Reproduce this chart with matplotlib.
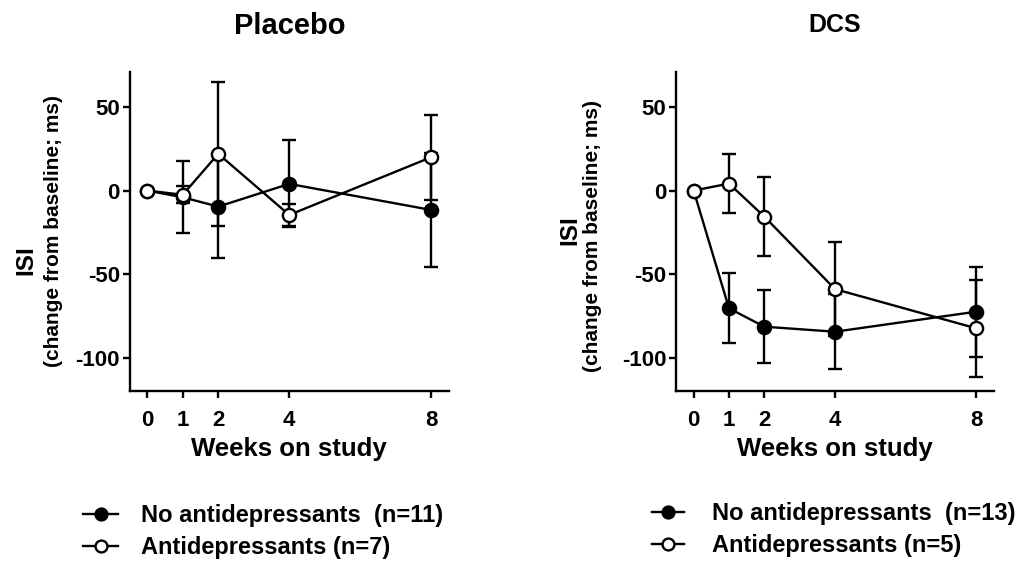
import numpy as np
import matplotlib
matplotlib.use("Agg")
import matplotlib.pyplot as plt

plt.rcParams['font.family'] = ['Liberation Sans', 'DejaVu Sans']
plt.rcParams['font.weight'] = 'bold'
plt.rcParams['axes.unicode_minus'] = False

weeks = [0, 1, 2, 4, 8]

# Placebo
pl_no_mean = [0, -4, -9.6, 4, -11.6]
pl_no_err = [0, 21.5, 31, 26, 34]
pl_ad_mean = [0, -2.5, 22, -14.6, 20]
pl_ad_err = [0, 5.2, 43, 6.5, 25.5]

# DCS
dcs_no_mean = [0, -70.5, -81.5, -84.5, -72.5]
dcs_no_err = [0, 21, 22, 22.5, 27]
dcs_ad_mean = [0, 4.2, -15.6, -59, -82.5]
dcs_ad_err = [0, 17.8, 23.6, 28, 29]

titles = ["Placebo", "DCS"]
title_sizes = [21, 18]
legend_labels = [["No antidepressants  (n=11)", "Antidepressants (n=7)"],
                 ["No antidepressants  (n=13)", "Antidepressants (n=5)"]]

W, H = 1023, 568
fig = plt.figure(figsize=(W / 100, H / 100), dpi=100)

def px(x0, y0, x1, y1):
    return [x0 / W, 1 - y1 / H, (x1 - x0) / W, (y1 - y0) / H]

axes = [fig.add_axes(px(129.5, 72, 449, 391)),
        fig.add_axes(px(676, 72, 994, 391))]

data = [(pl_no_mean, pl_no_err, pl_ad_mean, pl_ad_err),
        (dcs_no_mean, dcs_no_err, dcs_ad_mean, dcs_ad_err)]

lw = 1.7
for i, ax in enumerate(axes):
    nm, ne, am, ae = data[i]
    for m, e in [(nm, ne), (am, ae)]:
        ax.errorbar(weeks, m, yerr=e, fmt='none', ecolor='black',
                    elinewidth=lw, capsize=5, capthick=lw, zorder=2)
    h1, = ax.plot(weeks, nm, '-o', color='black', lw=lw, ms=9.5,
                  mfc='black', mec='black', mew=lw, zorder=3)
    h2, = ax.plot(weeks, am, '-o', color='black', lw=lw, ms=9.5,
                  mfc='white', mec='black', mew=lw, zorder=4)

    ax.set_xlim(-0.5, 8.5)
    ax.set_ylim(-120, 71)
    ax.set_xticks(weeks)
    ax.set_yticks([-100, -50, 0, 50])
    for s in ['top', 'right']:
        ax.spines[s].set_visible(False)
    for s in ['left', 'bottom']:
        ax.spines[s].set_linewidth(1.7)
    ax.tick_params(axis='both', width=1.7, length=5, labelsize=16)
    ax.tick_params(axis='x', pad=9)
    ax.tick_params(axis='y', pad=2)
    ax.set_xlabel("Weeks on study", fontsize=18.5, fontweight='bold', labelpad=4)
    ax.set_title(titles[i], fontsize=title_sizes[i], fontweight='bold',
                 pad=[27, 29][i])

    if i == 0:
        anchor = (83 / W, 1 - 504 / H)
        hl, tp = 1.5, 0.95
    else:
        anchor = (652 / W, 1 - 502 / H)
        hl, tp = 1.35, 1.2
    fig.legend([h1, h2], legend_labels[i], loc='upper left',
               bbox_to_anchor=anchor, frameon=False, fontsize=17,
               handlelength=hl, handletextpad=tp, borderpad=0,
               borderaxespad=0, labelspacing=0.4, markerscale=0.9)

# y labels
for x_isi, y_isi, x_sub, y_sub in [(25.5, 260, 54, 231), (570, 230, 592, 236)]:
    fig.text(x_isi / W, 1 - y_isi / H, "ISI", rotation=90, fontsize=17.5,
             fontweight='bold', ha='center', va='center')
    fig.text(x_sub / W, 1 - y_sub / H, "(change from baseline; ms)",
             rotation=90, fontsize=15, fontweight='bold',
             ha='center', va='center')

fig.savefig("out.png", dpi=100)
